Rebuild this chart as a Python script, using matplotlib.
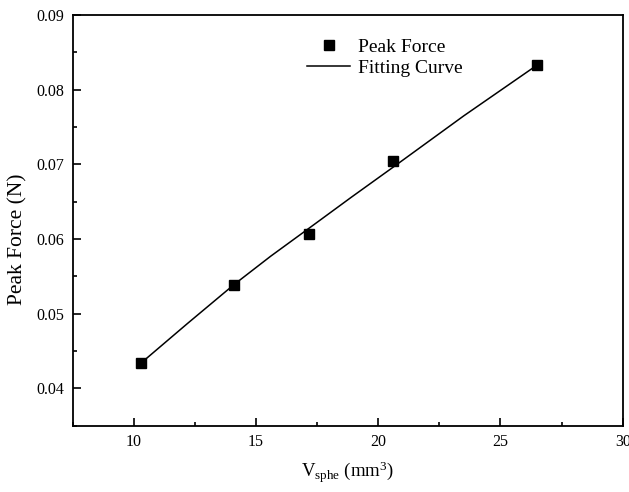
import numpy as np
import matplotlib
matplotlib.use('Agg')
import matplotlib.pyplot as plt
from matplotlib.ticker import MultipleLocator

# valores
volume = [10.3, 14.1, 17.15, 20.6, 26.5]
peak_force = [0.0434, 0.0538, 0.0607, 0.0705, 0.0833]

# curva de ajuste
fit_x = [10.3, 12.2, 14.1, 15.6, 17.15, 18.9, 20.6, 23.5, 26.5]
fit_y = [0.0434, 0.0487, 0.0539, 0.0577, 0.0614, 0.0656, 0.0696, 0.0765, 0.0833]

plt.rcParams['font.family'] = ['Liberation Serif', 'DejaVu Serif']

fig = plt.figure(figsize=(6.29, 4.92), dpi=100)
ax = fig.add_axes([0.1156, 0.1348, 0.8744, 0.8347])

ax.plot(volume, peak_force, 's', color='black', markersize=7, label='Peak Force', zorder=3)
ax.plot(fit_x, fit_y, '-', color='black', linewidth=1.1, label='Fitting Curve')

ax.set_xlim(7.5, 30)
ax.set_ylim(0.035, 0.09)
ax.xaxis.set_minor_locator(MultipleLocator(2.5))
ax.yaxis.set_minor_locator(MultipleLocator(0.005))
ax.set_xticks([10, 15, 20, 25, 30])
ax.set_yticks([0.04, 0.05, 0.06, 0.07, 0.08, 0.09])
ax.set_xticklabels(['10', '15', '20', '25', '30'])
ax.set_yticklabels(['0.04', '0.05', '0.06', '0.07', '0.08', '0.09'])

ax.tick_params(which='both', direction='in', width=1.2, labelsize=11.5, pad=6)
ax.tick_params(which='major', length=5.5)
ax.tick_params(which='minor', length=3)
for s in ax.spines.values():
    s.set_linewidth(1.3)

ax.set_xlabel(r'$\mathregular{V_{sphe}}$ (mm$\mathregular{^3}$)', fontsize=13.5, labelpad=7)
ax.set_ylabel('Peak Force (N)', fontsize=15.5)
ax.yaxis.set_label_coords(-0.083, 0.455)

ax.legend(loc='upper left', bbox_to_anchor=(0.395, 0.985), frameon=False,
          fontsize=14, handlelength=2.2, handletextpad=0.4, labelspacing=0.15)

fig.savefig('out.png', dpi=100)
